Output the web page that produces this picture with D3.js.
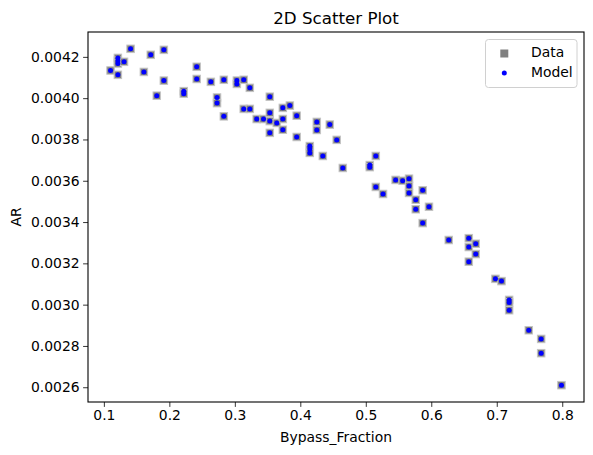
<!DOCTYPE html>
<html>
<head>
<meta charset="utf-8">
<script src="https://cdn.jsdelivr.net/npm/d3@7"></script>
<style>
  body { margin: 0; background: #fff; }
  svg text { font-family: "DejaVu Sans", sans-serif; fill: #000; }
</style>
</head>
<body>
<div id="chart"></div>
<script>
var bypassFraction = [0.1102, 0.1214, 0.1214, 0.1214, 0.1308, 0.1214, 0.1408, 0.1611, 0.1716, 0.1808,
  0.1916, 0.1916, 0.2220, 0.2220, 0.2418, 0.2418, 0.2634, 0.2728, 0.2728, 0.2832,
  0.2832, 0.3031, 0.3031, 0.3136, 0.3136, 0.3229, 0.3229, 0.3334, 0.3438, 0.3534,
  0.3534, 0.3534, 0.3534, 0.3641, 0.3733, 0.3840, 0.3733, 0.3733, 0.3945, 0.3945,
  0.4145, 0.4145, 0.4145, 0.4252, 0.4252, 0.4344, 0.4450, 0.4556, 0.4649, 0.5061,
  0.5061, 0.5153, 0.5153, 0.5263, 0.5456, 0.5563, 0.5660, 0.5660, 0.5660, 0.5763,
  0.5763, 0.5869, 0.5965, 0.5869, 0.6267, 0.6573, 0.6573, 0.6679, 0.6679, 0.6573,
  0.6980, 0.7072, 0.7189, 0.7189, 0.7189, 0.7489, 0.7678, 0.7678, 0.7988],

    arData = [0.004134, 0.004195, 0.004181, 0.004168, 0.004176, 0.004113, 0.004239, 0.004127, 0.004210, 0.004012,
  0.004234, 0.004085, 0.004034, 0.004022, 0.004152, 0.004093, 0.004079, 0.004003, 0.003976, 0.004089,
  0.003912, 0.004085, 0.004069, 0.004089, 0.003948, 0.004050, 0.003948, 0.003899, 0.003899, 0.004007,
  0.003929, 0.003889, 0.003832, 0.003880, 0.003953, 0.003964, 0.003899, 0.003847, 0.003915, 0.003812,
  0.003768, 0.003754, 0.003735, 0.003885, 0.003846, 0.003720, 0.003872, 0.003798, 0.003662, 0.003676,
  0.003666, 0.003720, 0.003570, 0.003536, 0.003604, 0.003600, 0.003610, 0.003575, 0.003541, 0.003508,
  0.003462, 0.003554, 0.003474, 0.003395, 0.003313, 0.003322, 0.003279, 0.003295, 0.003245, 0.003208,
  0.003125, 0.003114, 0.003023, 0.003011, 0.002973, 0.002876, 0.002834, 0.002765, 0.002610],

    arModel = arData.slice(),

    xTicks = [0.1, 0.2, 0.3, 0.4, 0.5, 0.6, 0.7, 0.8],
    yTicks = [0.0026, 0.0028, 0.0030, 0.0032, 0.0034, 0.0036, 0.0038, 0.0040, 0.0042],
    legendLabels = ['Data', 'Model'];

var W = 593, H = 455,
    mLeft = 88, mTop = 32, pw = 496, ph = 370,
    tickLen = 4.9,
    sq = 7.5,
    dotR = 2.5;

// matplotlib style 5% margins around the data
function padded(arr) {
  var lo = d3.min(arr), hi = d3.max(arr), m = (hi - lo) * 0.05;
  return [lo - m, hi + m];
}

var x = d3.scaleLinear().domain(padded(bypassFraction)).range([mLeft, mLeft + pw]),
    y = d3.scaleLinear().domain(padded(arData.concat(arModel))).range([mTop + ph, mTop]);

var svg = d3.select('#chart').append('svg')
    .attr('width', W)
    .attr('height', H);

svg.append('rect').attr('width', W).attr('height', H).attr('fill', '#fff');

var pts = bypassFraction.map(function(v, i){ return {x: v, d: arData[i], m: arModel[i]}; });

svg.append('g').selectAll('rect')
    .data(pts)
  .enter().append('rect')
    .attr('x', function(d){ return x(d.x) - sq / 2; })
    .attr('y', function(d){ return y(d.d) - sq / 2; })
    .attr('width', sq)
    .attr('height', sq)
    .attr('fill', '#808080')
    .attr('stroke', '#c4c4c4')
    .attr('stroke-width', 1);

svg.append('g').selectAll('circle')
    .data(pts)
  .enter().append('circle')
    .attr('cx', function(d){ return x(d.x); })
    .attr('cy', function(d){ return y(d.m); })
    .attr('r', dotR)
    .attr('fill', '#0000ff');

// axes
var xAxis = svg.append('g')
    .attr('transform', 'translate(0,' + (mTop + ph) + ')')
    .call(d3.axisBottom(x).tickValues(xTicks).tickSize(tickLen).tickPadding(3.5)
      .tickFormat(d3.format('.1f')));
var yAxis = svg.append('g')
    .attr('transform', 'translate(' + mLeft + ',0)')
    .call(d3.axisLeft(y).tickValues(yTicks).tickSize(tickLen).tickPadding(3.5)
      .tickFormat(d3.format('.4f')));

[xAxis, yAxis].forEach(function(g){
  g.select('.domain').remove();
  g.selectAll('line').attr('stroke', '#000').attr('stroke-width', 0.8);
  g.selectAll('text').style('font-family', '"DejaVu Sans", sans-serif').style('font-size', '13.9px');
});

svg.append('rect')
    .attr('x', mLeft).attr('y', mTop)
    .attr('width', pw).attr('height', ph)
    .attr('fill', 'none')
    .attr('stroke', '#000')
    .attr('stroke-width', 1.1);

svg.append('text')
    .attr('x', mLeft + pw / 2).attr('y', mTop - 8)
    .attr('text-anchor', 'middle')
    .style('font-size', '16.7px')
    .text('2D Scatter Plot');

svg.append('text')
    .attr('x', mLeft + pw / 2).attr('y', 442)
    .attr('text-anchor', 'middle')
    .style('font-size', '13.9px')
    .text('Bypass_Fraction');

svg.append('text')
    .attr('transform', 'translate(21,' + (mTop + ph / 2) + ') rotate(-90)')
    .attr('text-anchor', 'middle')
    .style('font-size', '13.9px')
    .text('AR');

// legend
var lg = svg.append('g');
lg.append('rect')
    .attr('x', 485.5).attr('y', 39.5)
    .attr('width', 91.5).attr('height', 48)
    .attr('rx', 3)
    .attr('fill', '#fff')
    .attr('fill-opacity', 0.8)
    .attr('stroke', '#d0d0d0')
    .attr('stroke-width', 1);
lg.append('rect')
    .attr('x', 504.3 - 4).attr('y', 53.5 - 4)
    .attr('width', 8).attr('height', 8)
    .attr('fill', '#808080');
lg.append('circle')
    .attr('cx', 504.3).attr('cy', 73)
    .attr('r', dotR)
    .attr('fill', '#0000ff');
lg.selectAll('text.lab')
    .data(legendLabels)
  .enter().append('text')
    .attr('class', 'lab')
    .attr('x', 531)
    .attr('y', function(d, i){ return 56.5 + i * 20; })
    .style('font-size', '13.9px')
    .text(function(d){ return d; });
</script>
</body>
</html>
